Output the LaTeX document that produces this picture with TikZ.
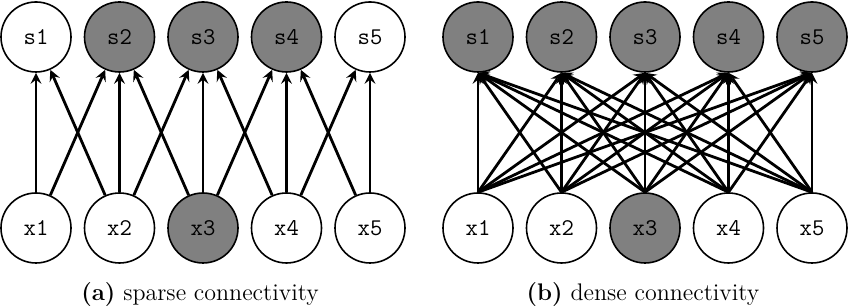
\documentclass[tikz,border=0pt]{standalone}
\usepackage{tikz}
\tikzset{
  unit/.style={circle, draw, line width=0.8pt, minimum size=35pt, inner sep=0pt,
    font=\fontsize{12}{14}\selectfont\ttfamily},
  active/.style={unit, fill=gray},
  link/.style={->, line width=1.4pt},
  caption/.style={anchor=base, font=\fontsize{12}{14}\selectfont},
}

\begin{document}
\begin{tikzpicture}[x=0.5pt, y=0.5pt, >=stealth]
    \useasboundingbox (0,0) rectangle (850,308);
    % (a) sparse connectivity
    \foreach \i/\up/\dn in {1/unit/unit, 2/active/unit, 3/active/active, 4/active/unit, 5/unit/unit} {
        \node[\up] (sa\i) at ({36+83.5*(\i-1)},271) {s\i};
        \node[\dn] (xa\i) at ({36+83.5*(\i-1)},80) {x\i};
    }
    \foreach \a/\b in {1/1,1/2,2/1,2/2,2/3,3/2,3/3,3/4,4/3,4/4,4/5,5/4,5/5}
        \draw[link] (xa\a) -- (sa\b);
    \node[caption] (capa) at (200,7) {\textbf{(a)} sparse connectivity};

    % (b) dense connectivity
    \foreach \i/\dn in {1/unit, 2/unit, 3/active, 4/unit, 5/unit} {
        \node[active] (sb\i) at ({478+83.5*(\i-1)},271) {s\i};
        \node[\dn] (xb\i) at ({478+83.5*(\i-1)},80) {x\i};
    }
    \foreach \a in {1,...,5}
        \foreach \b in {1,...,5}
            \draw[link] (xb\a.north) -- (sb\b.south);
    \node[caption] (capb) at (643,7) {\textbf{(b)} dense connectivity};
\end{tikzpicture}
\end{document}
